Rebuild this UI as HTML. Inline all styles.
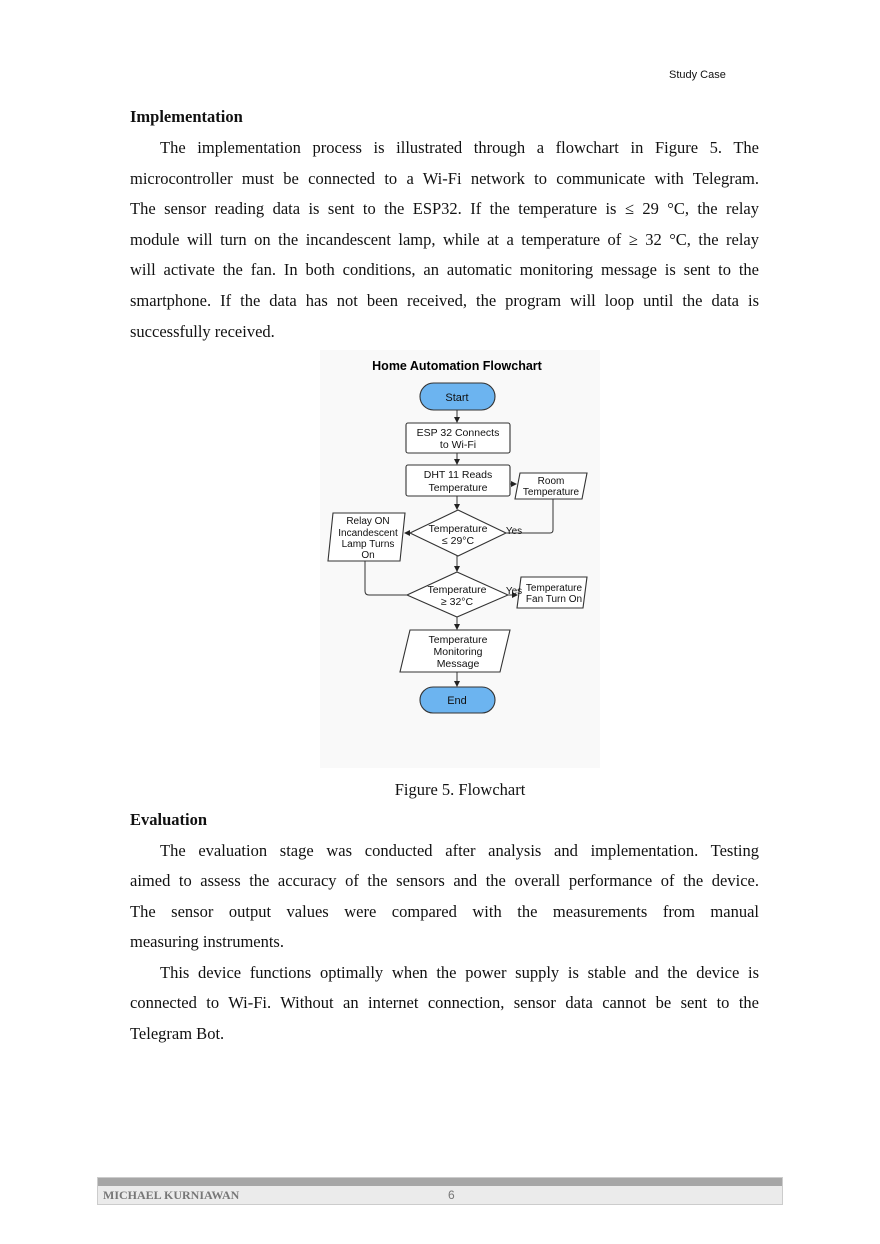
<!DOCTYPE html>
<html><head><meta charset="utf-8"><style>
html,body{margin:0;padding:0;background:#fff}
body{width:880px;height:1244px;position:relative;overflow:hidden;font-family:"Liberation Serif",serif;color:#111}
.l{position:absolute;left:130px;width:629px;font-size:16.5px;line-height:20px;text-align:justify;text-align-last:justify;white-space:nowrap}
.l.e{text-align-last:left}
.i{left:160px;width:599px}
.h{position:absolute;left:130px;font-weight:bold;font-size:16.5px}
svg text{font-family:"Liberation Sans",sans-serif}
</style></head><body>
<div style="position:absolute;left:669px;top:69px;font-family:'Liberation Sans',sans-serif;font-size:11px">Study Case</div>
<div class="h" style="top:107px">Implementation</div>
<div class="l i" style="top:138px">The implementation process is illustrated through a flowchart in Figure 5. The</div>
<div class="l" style="top:169px">microcontroller must be connected to a Wi-Fi network to communicate with Telegram.</div>
<div class="l" style="top:199px">The sensor reading data is sent to the ESP32. If the temperature is ≤ 29 °C, the relay</div>
<div class="l" style="top:230px">module will turn on the incandescent lamp, while at a temperature of ≥ 32 °C, the relay</div>
<div class="l" style="top:260px">will activate the fan. In both conditions, an automatic monitoring message is sent to the</div>
<div class="l" style="top:291px">smartphone. If the data has not been received, the program will loop until the data is</div>
<div class="l e" style="top:322px">successfully received.</div>

<svg style="position:absolute;left:0;top:0" width="880" height="1244">
<defs><marker id="a" markerWidth="6" markerHeight="6" refX="5" refY="3" orient="auto"><path d="M0,0L6,3L0,6z" fill="#222"/></marker></defs>
<rect x="320" y="350" width="280" height="418" fill="#f9f9f9"/>
<text x="457" y="370" font-size="12.5" font-weight="bold" text-anchor="middle">Home Automation Flowchart</text>
<g stroke="#333" stroke-width="1.1" fill="#fff">
<rect x="420" y="383" width="75" height="27" rx="13.5" fill="#6cb4f0"/>
<rect x="406" y="423" width="104" height="30" rx="2"/>
<rect x="406" y="465" width="104" height="31" rx="2"/>
<path d="M520,473L587,473L582,499L515,499z"/>
<path d="M458,510L506,533L458,556L410,533z"/>
<path d="M333,513L405,513L400,561L328,561z"/>
<path d="M457,572L508,595L457,617L407,595z"/>
<path d="M521,577L587,577L583,608L517,608z"/>
<path d="M410,630L510,630L500,672L400,672z"/>
<rect x="420" y="687" width="75" height="26" rx="13" fill="#6cb4f0"/>
</g>
<g stroke="#333" stroke-width="1" fill="none" marker-end="url(#a)">
<line x1="457" y1="410" x2="457" y2="422"/>
<line x1="457" y1="453" x2="457" y2="464"/>
<line x1="510" y1="484" x2="516" y2="484"/>
<line x1="457" y1="496" x2="457" y2="509"/>
<line x1="457" y1="556" x2="457" y2="571"/>
<line x1="410" y1="533" x2="405" y2="533"/>
<line x1="508" y1="595" x2="517" y2="595"/>
<line x1="457" y1="617" x2="457" y2="629"/>
<line x1="457" y1="672" x2="457" y2="686"/>
</g>
<g stroke="#333" stroke-width="1" fill="none">
<path d="M553,499L553,530Q553,533 550,533L506,533"/>
<path d="M365,561L365,591Q365,595 369,595L407,595"/>
</g>
<g font-size="10.5" text-anchor="middle" fill="#111">
<text x="457" y="401" font-size="11">Start</text>
<text x="458" y="436">ESP 32 Connects</text><text x="458" y="448">to Wi-Fi</text>
<text x="458" y="478">DHT 11 Reads</text><text x="458" y="491">Temperature</text>
<text x="551" y="484" font-size="10">Room</text><text x="551" y="495" font-size="10">Temperature</text>
<text x="458" y="532">Temperature</text><text x="458" y="544">≤ 29°C</text>
<text x="514" y="534" font-size="10">Yes</text>
<text x="368" y="524" font-size="10">Relay ON</text><text x="368" y="536" font-size="10">Incandescent</text><text x="368" y="547" font-size="10">Lamp Turns</text><text x="368" y="558" font-size="10">On</text>
<text x="457" y="593">Temperature</text><text x="457" y="605">≥ 32°C</text>
<text x="514" y="594" font-size="10">Yes</text>
<text x="554" y="591" font-size="10">Temperature</text><text x="554" y="602" font-size="10">Fan Turn On</text>
<text x="458" y="643">Temperature</text><text x="458" y="655">Monitoring</text><text x="458" y="667">Message</text>
<text x="457" y="704" font-size="11">End</text>
</g>
</svg>

<div style="position:absolute;left:0;width:920px;top:780px;text-align:center;font-size:16.5px">Figure 5. Flowchart</div>
<div class="h" style="top:810px">Evaluation</div>
<div class="l i" style="top:841px">The evaluation stage was conducted after analysis and implementation. Testing</div>
<div class="l" style="top:871px">aimed to assess the accuracy of the sensors and the overall performance of the device.</div>
<div class="l" style="top:902px">The sensor output values were compared with the measurements from manual</div>
<div class="l e" style="top:932px">measuring instruments.</div>
<div class="l i" style="top:963px">This device functions optimally when the power supply is stable and the device is</div>
<div class="l" style="top:993px">connected to Wi-Fi. Without an internet connection, sensor data cannot be sent to the</div>
<div class="l e" style="top:1024px">Telegram Bot.</div>

<div style="position:absolute;left:97px;top:1177px;width:684px;height:26px;border:1px solid #ccc;background:#ebebeb">
<div style="height:8px;background:#a6a6a6"></div>
<div style="position:absolute;left:5px;top:10px;font-size:12px;font-weight:bold;color:#777">MICHAEL KURNIAWAN</div>
<div style="position:absolute;left:350px;top:10px;font-size:12px;color:#777;font-family:'Liberation Sans',sans-serif">6</div>
</div>
</body></html>
